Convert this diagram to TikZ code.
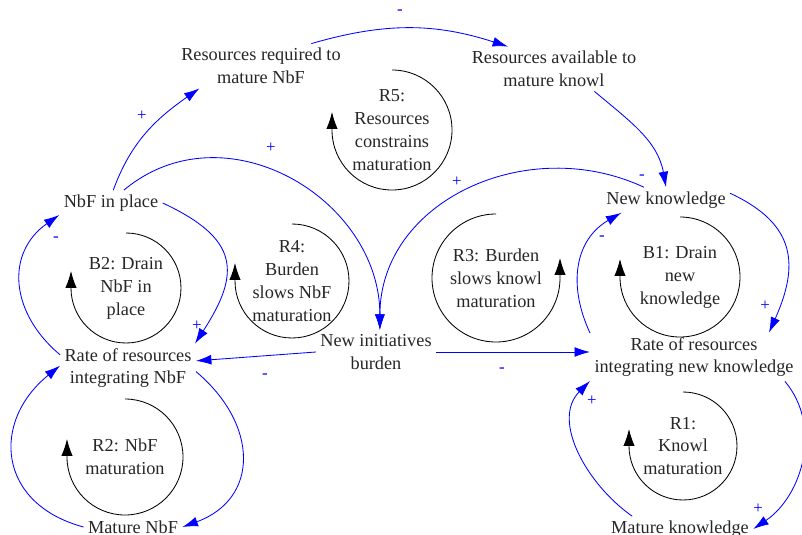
\documentclass[tikz,border=0pt]{standalone}
\usepackage{fontspec}
\setmainfont{Liberation Serif}
\usetikzlibrary{arrows.meta,positioning}
\definecolor{linkblue}{HTML}{0000FF}
\definecolor{ink}{HTML}{262626}

\begin{document}
\begin{tikzpicture}[x=0.025cm,y=0.025cm,>={Latex[length=11pt,width=7pt]},
var/.style={align=center,inner sep=3pt,text=ink,font=\fontsize{13}{16.3}\selectfont},
loopname/.style={var},
causal/.style={->,linkblue,line width=0.6pt},
loopmark/.style={-{Latex[length=12pt,width=8pt]},black,line width=0.6pt},
sgn/.style={text=linkblue,inner sep=0pt,font=\fontsize{12}{14}\selectfont}]
 \useasboundingbox (0,0) rectangle (802,534);
 \node[var] (resreq) at (261,468) {Resources required to\\mature NbF};
 \node[var] (resavail) at (554,465) {Resources available to\\mature knowl};
 \node[var] (nbf) at (111,331) {NbF in place};
 \node[var] (newknow) at (666,334) {New knowledge};
 \node[var] (newinit) at (376,182) {New initiatives\\burden};
 \node[var] (ratenbf) at (128,166) {Rate of resources\\integrating NbF};
 \node[var] (rateknow) at (694,177) {Rate of resources\\integrating new knowledge};
 \node[var] (matnbf) at (133,7) {Mature NbF};
 \node[var] (matknow) at (680,5) {Mature knowledge};
 \node[loopname] (r5) at (392,404) {R5:\\Resources\\constrains\\maturation};
 \node[loopname] (r4) at (292,253) {R4:\\Burden\\slows NbF\\maturation};
 \node[loopname] (b2) at (126,246) {B2: Drain\\NbF in\\place};
 \node[loopname] (r3) at (496,256) {R3: Burden\\slows knowl\\maturation};
 \node[loopname] (b1) at (680,257) {B1: Drain\\new\\knowledge};
 \node[loopname] (r2) at (125,77) {R2: NbF\\maturation};
 \node[loopname] (r1) at (683,88) {R1:\\Knowl\\maturation};
 \draw[loopmark] (r5.center) ++(90:60) arc[start angle=90,end angle=-180,radius=60] -- ++(0,18);
 \draw[loopmark] (r4.center) ++(90:57) arc[start angle=90,end angle=-180,radius=57] -- ++(0,18);
 \draw[loopmark] (b2.center) ++(90:55) arc[start angle=90,end angle=-180,radius=55] -- ++(0,17);
 \draw[loopmark] (r3.center) ++(90:64) arc[start angle=90,end angle=360,radius=64] -- ++(0,20);
 \draw[loopmark] (b1.center) ++(90:60) arc[start angle=90,end angle=-180,radius=60] -- ++(0,18);
 \draw[loopmark] (r2.center) ++(90:58) arc[start angle=90,end angle=-180,radius=58] -- ++(0,18);
 \draw[loopmark] (r1.center) ++(90:54) arc[start angle=90,end angle=-180,radius=54] -- ++(0,17);
 \draw[causal] (resreq.24) to[bend left=17] (resavail.154);
 \draw[causal] (resavail.-29) to[out=-40,in=100] (newknow.north);
 \draw[causal] (nbf.80) to[out=70,in=-145] (resreq.200);
 \draw[causal] (nbf.45) to[out=40,in=90,looseness=1.15] (newinit.80);
 \draw[causal] (newknow.150) to[out=155,in=90,looseness=1.1] (newinit.80);
 \draw[causal] (ratenbf.169) to[out=140,in=-145,looseness=1.2] (nbf.193);
 \draw[causal] (nbf.east) to[out=-25,in=57,looseness=1.5] (ratenbf.20);
 \draw[causal] (newinit.west) -- (ratenbf.6);
 \draw[causal] (ratenbf.-3) to[out=-40,in=20,looseness=1.35] (matnbf.east);
 \draw[causal] (matnbf.west) to[out=165,in=-141,looseness=1.4] (ratenbf.178);
 \draw[causal] (newinit.east) -- (newinit.east -| rateknow.west);
 \draw[causal] (rateknow.167) to[out=115,in=-150,looseness=1.1] (newknow.196);
 \draw[causal] (newknow.6) to[out=-25,in=66,looseness=1.3] (rateknow.18);
 \draw[causal] (rateknow.-15) to[out=-50,in=34] (matknow.east);
 \draw[causal] (matknow.165) to[out=145,in=-135] (rateknow.193);
 \node[sgn] (sreqavail) at (400,522) {-};
 \node[sgn] (snbfreq) at (142,418) {+};
 \node[sgn] (snbfinit) at (271,386) {+};
 \node[sgn] (sknowinit) at (457,352) {+};
 \node[sgn] (savailknow) at (642,357) {-};
 \node[sgn] (sratenbf) at (56,295) {-};
 \node[sgn] (snbfrate) at (197,208) {+};
 \node[sgn] (sinitnbf) at (265,158) {-};
 \node[sgn] (sinitknow) at (502,164) {-};
 \node[sgn] (srateknow) at (602,296) {-};
 \node[sgn] (sknowrate) at (765,228) {+};
 \node[sgn] (sratemat) at (758,25) {+};
 \node[sgn] (smatrate) at (592,133) {+};
\end{tikzpicture}
\end{document}
